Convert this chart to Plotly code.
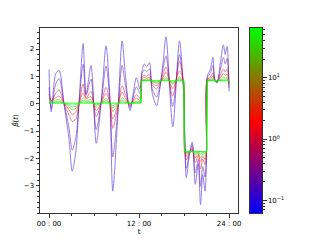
import math
import plotly.graph_objects as go
from plotly.colors import sample_colorscale

# --------------------------- DATA ---------------------------

# time in hours
t = [0, 0.3, 0.9, 1.35, 2.0, 2.65, 3.1, 3.6, 4.0, 4.55,
     4.95, 5.6, 6.3, 7.0, 7.6, 8.1, 8.5, 9.1, 9.75, 10.2,
     10.8, 11.65, 12.1, 12.25, 12.35, 12.7, 13.0, 13.4, 13.75, 14.35,
     14.8, 15.2, 15.6, 16.5, 17.4, 17.98, 18.05, 18.3, 18.7, 19.1,
     19.5, 19.9, 20.2, 20.5, 20.8, 21.0, 21.1, 21.5, 21.85, 22.1,
     22.4, 22.9, 23.25, 23.5, 23.75, 24.0]

lambdas = [0.1, 0.2, 1, 2, 24, 32, 48, 64]
cb_min, cb_max = 0.0625, 64

beta_0 = [1.25, -0.3, 1.1, 1.22, 0.0, -1.25, -2.47, -1.7, 0.0, 2.2,
          0.35, 1.4, -1.45, 0.2, 2.12, 0.3, -3.2, -0.8, 2.3, 1.0,
          -0.25, 0.95, 0.55, 0.7, 1.15, 1.45, 1.35, 1.5, 0.4, -0.08,
          0.6, 1.5, 2.45, -0.85, 2.3, 0.2, -0.3, -2.7, -1.9, -1.4,
          -2.95, -2.2, -3.7, -2.6, -3.2, -1.9, 1.0, 1.25, 1.7, 0.9,
          0.75, 1.6, 2.15, 1.8, 2.1, 0.45]
beta_1 = [0.6, -0.18, 0.72, 0.92, 0.0, -0.85, -1.7, -1.2, 0.0, 1.45,
          0.3, 0.9, -0.95, 0.14, 1.38, 0.2, -1.95, -0.5, 1.4, 0.65,
          -0.15, 0.62, 0.37, 0.46, 1.04, 1.24, 1.17, 1.27, 0.55, 0.24,
          0.68, 1.27, 1.75, -0.1, 1.8, 0.42, -0.81, -2.37, -1.85, -1.52,
          -2.53, -2.04, -3.02, -2.3, -2.69, -1.85, 0.94, 1.11, 1.4, 0.88,
          0.78, 1.33, 1.69, 1.46, 1.66, 0.59]
beta_2 = [0.35, 0.1, 0.38, 0.5, 0.0, -0.4, -0.65, -0.55, 0.0, 0.72,
          0.2, 0.45, -0.47, 0.08, 0.6, 0.1, -0.9, -0.25, 0.65, 0.33,
          -0.07, 0.33, 0.2, 0.25, 0.94, 1.04, 1.01, 1.06, 0.7, 0.54,
          0.76, 1.06, 1.35, 0.28, 1.55, 0.63, -1.27, -2.06, -1.8, -1.63,
          -2.15, -1.9, -2.39, -2.03, -2.23, -1.8, 0.89, 0.98, 1.12, 0.86,
          0.81, 1.09, 1.27, 1.16, 1.26, 0.71]
beta_3 = [0.2, 0.12, 0.22, 0.28, 0.02, -0.22, -0.4, -0.3, 0.0, 0.4,
          0.18, 0.26, -0.25, 0.06, 0.38, 0.06, -0.55, -0.15, 0.42, 0.2,
          -0.02, 0.2, 0.12, 0.15, 0.9, 0.96, 0.94, 0.96, 0.76, 0.66,
          0.8, 0.96, 1.15, 0.55, 1.2, 0.72, -1.5, -1.92, -1.78, -1.68,
          -1.98, -1.84, -2.12, -1.92, -2.05, -1.78, 0.87, 0.92, 1.0, 0.85,
          0.83, 0.98, 1.1, 1.03, 1.08, 0.77]
beta_4 = [0.14, 0.1, 0.14, 0.16, 0.02, -0.12, -0.22, -0.17, 0.0, 0.22,
          0.12, 0.15, -0.13, 0.03, 0.2, 0.03, -0.3, -0.08, 0.22, 0.12,
          0.0, 0.1, 0.07, 0.08, 0.87, 0.9, 0.9, 0.9, 0.8, 0.74,
          0.8, 0.9, 1.0, 0.7, 1.0, 0.78, -1.6, -1.84, -1.77, -1.72,
          -1.88, -1.8, -1.98, -1.85, -1.92, -1.77, 0.85, 0.88, 0.93, 0.85,
          0.84, 0.92, 0.98, 0.95, 0.97, 0.8]
beta_5 = [0.08, 0.06, 0.08, 0.09, 0.02, -0.05, -0.12, -0.09, 0.01, 0.13,
          0.08, 0.09, -0.06, 0.03, 0.12, 0.03, -0.16, -0.04, 0.13, 0.07,
          0.01, 0.06, 0.04, 0.05, 0.85, 0.87, 0.87, 0.87, 0.82, 0.78,
          0.82, 0.87, 0.93, 0.75, 0.93, 0.8, -1.66, -1.8, -1.76, -1.73,
          -1.82, -1.78, -1.87, -1.8, -1.84, -1.76, 0.84, 0.86, 0.89, 0.85,
          0.84, 0.88, 0.91, 0.9, 0.91, 0.82]
beta_6 = [0.05, 0.04, 0.05, 0.05, 0.02, -0.01, -0.05, -0.03, 0.02, 0.07,
          0.05, 0.05, -0.02, 0.02, 0.07, 0.02, -0.07, 0.0, 0.07, 0.04,
          0.02, 0.04, 0.03, 0.03, 0.84, 0.85, 0.85, 0.85, 0.83, 0.81,
          0.83, 0.85, 0.88, 0.79, 0.88, 0.82, -1.7, -1.78, -1.76, -1.74,
          -1.79, -1.77, -1.81, -1.78, -1.8, -1.76, 0.84, 0.85, 0.86, 0.84,
          0.84, 0.86, 0.87, 0.87, 0.87, 0.83]
beta_7 = [0.02, 0.02, 0.02, 0.02, 0.02, 0.02, 0.02, 0.02, 0.02, 0.02,
          0.02, 0.02, 0.02, 0.02, 0.02, 0.02, 0.02, 0.02, 0.02, 0.02,
          0.02, 0.02, 0.02, 0.02, 0.84, 0.84, 0.84, 0.84, 0.84, 0.84,
          0.84, 0.84, 0.84, 0.84, 0.84, 0.84, -1.75, -1.75, -1.75, -1.75,
          -1.75, -1.75, -1.75, -1.75, -1.75, -1.75, 0.84, 0.84, 0.84, 0.84,
          0.84, 0.84, 0.84, 0.84, 0.84, 0.84]

betas = [beta_0, beta_1, beta_2, beta_3, beta_4, beta_5, beta_6, beta_7]

x_tickvals = [0, 12, 24]
x_ticktext = ["00 : 00", "12 : 00", "24 : 00"]
y_tickvals = [-3, -2, -1, 0, 1, 2]
y_ticktext = ["\u22123", "\u22122", "\u22121", "0", "1", "2"]

# --------------------------- STYLE ---------------------------

CSCALE = [[0, "rgb(0,0,255)"], [0.5, "rgb(255,0,0)"], [1, "rgb(0,255,0)"]]
LO, HI = math.log10(cb_min), math.log10(cb_max)
FONT = dict(family="DejaVu Sans", size=7, color="black")
AX = "#333"

fracs = [(math.log10(l) - LO) / (HI - LO) for l in lambdas]
colors = sample_colorscale(CSCALE, fracs)

fig = go.Figure()

for i, (lam, y) in enumerate(zip(lambdas, betas)):
    smooth = i < 4
    fig.add_trace(go.Scatter(
        x=t, y=y,
        mode="lines",
        line=dict(color=colors[i], width=1,
                  shape="spline" if smooth else "linear", smoothing=0.8),
        opacity=0.5 if i < len(lambdas) - 1 else 0.8,
        showlegend=False,
        name=f"lambda={lam}",
    ))

# colour bar built as a tiny heatmap on its own axes (log10 lambda units)
fig.add_trace(go.Heatmap(
    z=[[LO, LO], [HI, HI]], x=[0, 1], y=[LO, HI],
    colorscale=CSCALE, zmin=LO, zmax=HI, zsmooth="best",
    showscale=False, xaxis="x2", yaxis="y2", hoverinfo="skip",
))

minor_cb = [math.log10(m * 10 ** k) for k in (-2, -1, 0, 1)
            for m in range(2, 10) if LO <= math.log10(m * 10 ** k) <= HI]

fig.update_layout(
    width=320, height=240,
    autosize=False,
    paper_bgcolor="white",
    plot_bgcolor="white",
    font=FONT,
    margin=dict(l=40, r=58, t=28, b=27, pad=0),

    xaxis=dict(
        domain=[0, 0.892],
        range=[-1.2, 25.2],
        tickvals=x_tickvals, ticktext=x_ticktext, tickfont=FONT,
        ticks="outside", ticklen=3.5, tickwidth=0.8, tickcolor=AX,
        minor=dict(tickvals=[3, 6, 9, 15, 18, 21], ticks="outside",
                   ticklen=2, tickwidth=0.6, tickcolor=AX),
        showline=True, mirror=True, linecolor=AX, linewidth=1,
        showgrid=False, zeroline=False,
        title=dict(text="t", standoff=2, font=FONT),
        automargin=False,
    ),
    yaxis=dict(
        domain=[0, 1],
        range=[-4.0, 2.77],
        tickvals=y_tickvals, ticktext=y_ticktext, tickfont=FONT,
        ticks="outside", ticklen=3.5, tickwidth=0.8, tickcolor=AX,
        minor=dict(dtick=0.2, ticks="outside", ticklen=2,
                   tickwidth=0.6, tickcolor=AX),
        showline=True, mirror=True, linecolor=AX, linewidth=1,
        showgrid=False, zeroline=False,
        title=dict(text="<i>\u03b2\u0302</i>(<i>t</i>)", standoff=4, font=FONT),
        automargin=False,
    ),
    xaxis2=dict(
        domain=[0.946, 1], range=[0, 1], anchor="y2",
        showticklabels=False, ticks="", showgrid=False, zeroline=False,
        showline=True, mirror=True, linecolor=AX, linewidth=1,
    ),
    yaxis2=dict(
        domain=[0, 1], range=[LO, HI], anchor="x2", side="right",
        tickvals=[-1, 0, 1], tickfont=FONT,
        ticktext=["10<sup>\u22121</sup>", "10<sup>0</sup>", "10<sup>1</sup>"],
        ticks="outside", ticklen=3.5, tickwidth=0.8, tickcolor=AX,
        minor=dict(tickvals=minor_cb, ticks="outside", ticklen=2,
                   tickwidth=0.6, tickcolor=AX),
        showline=True, mirror=True, linecolor=AX, linewidth=1,
        showgrid=False, zeroline=False,
        automargin=False,
    ),
)

# the page's default body margin would push the 320x240 figure off-screen
fig.write_html("out.html", config={"displayModeBar": False},
               post_script="document.body.style.margin='0';")
